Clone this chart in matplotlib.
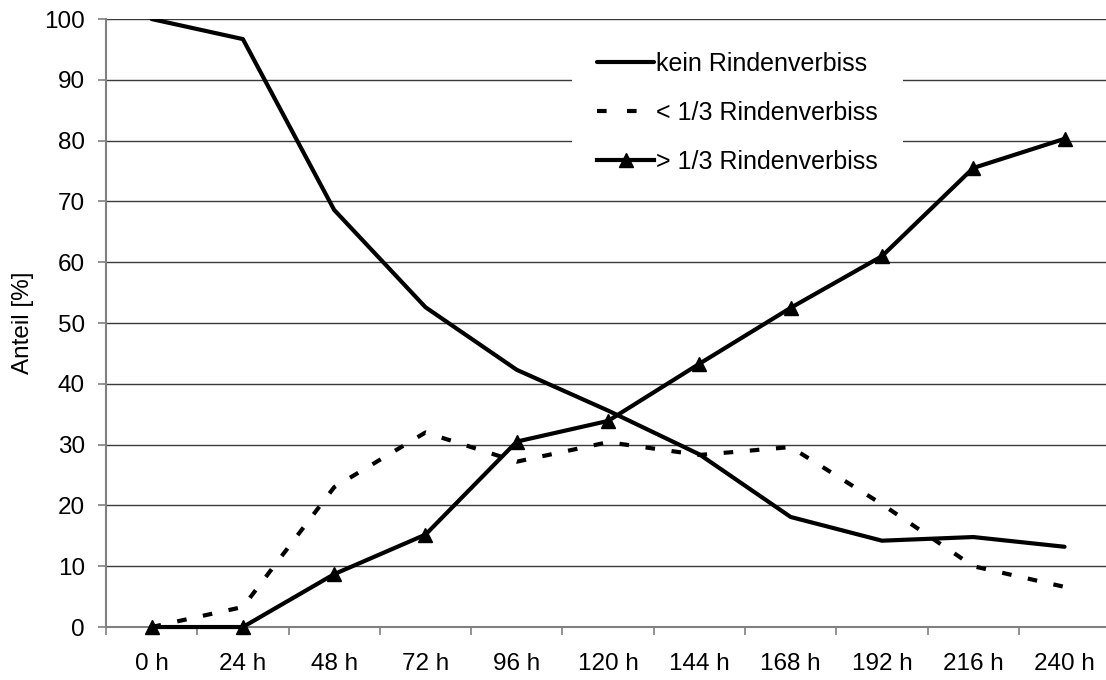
import matplotlib
matplotlib.use('Agg')
import matplotlib.pyplot as plt
import numpy as np

plt.rcParams['font.family'] = ['Liberation Sans', 'DejaVu Sans']

# Daten
zeit_labels = ['0 h', '24 h', '48 h', '72 h', '96 h', '120 h', '144 h', '168 h', '192 h', '216 h', '240 h']
kein = [100, 96.7, 68.6, 52.6, 42.3, 35.6, 28.4, 18.1, 14.2, 14.8, 13.2]
unter_drittel = [0, 3.3, 23.0, 32.0, 27.2, 30.4, 28.3, 29.6, 20.2, 10.0, 6.6]
ueber_drittel = [0, 0, 8.7, 15.2, 30.5, 33.9, 43.3, 52.5, 61.0, 75.5, 80.3]

x = np.arange(len(zeit_labels))

fig = plt.figure(figsize=(11.06, 6.8), dpi=100)
ax = fig.add_axes([0.0958, 0.0779, 0.908, 0.8941])

ax.plot(x, kein, color='black', lw=3, solid_capstyle='round', label='kein Rindenverbiss', zorder=3)
ax.plot(x, unter_drittel, color='black', lw=3, linestyle=(0, (2.3, 4.0)), dash_capstyle='butt',
        label='< 1/3 Rindenverbiss', zorder=3)
ax.plot(x, ueber_drittel, color='black', lw=3, marker='^', markersize=10.5, clip_on=False,
        label='> 1/3 Rindenverbiss', zorder=4)

ax.set_xlim(-0.5, len(zeit_labels) - 0.5)
ax.set_ylim(0, 100)
ax.set_yticks(np.arange(0, 101, 10))
ax.yaxis.grid(True, color='#3a3a3a', lw=1)
ax.set_axisbelow(True)

ax.set_xticks(x)
ax.set_xticklabels(zeit_labels, fontsize=17.5)
ax.set_xticks(np.arange(-0.5, len(zeit_labels), 1), minor=True)
ax.tick_params(axis='x', which='major', length=0, pad=19)
ax.tick_params(axis='x', which='minor', length=6, color='#808080', width=1.2)
ax.tick_params(axis='y', labelsize=17.5, length=6, color='#808080', width=1.2, pad=9)

for s in ['top', 'right']:
    ax.spines[s].set_visible(False)
ax.spines['left'].set_color('#808080')
ax.spines['left'].set_linewidth(1.5)
ax.spines['bottom'].set_color('#808080')
ax.spines['bottom'].set_linewidth(1.5)

ax.set_ylabel('Anteil [%]', fontsize=17.5)
ax.yaxis.set_label_coords(-0.072, 0.5)

leg = ax.legend(loc='upper left', bbox_to_anchor=(572 / 1106, 1 - 27 / 680),
                bbox_transform=fig.transFigure, frameon=True, fontsize=18,
                handlelength=2.28, handletextpad=0.1, labelspacing=1.0,
                borderpad=1.0, borderaxespad=0, fancybox=False)
leg.get_frame().set_facecolor('white')
leg.get_frame().set_edgecolor('none')
leg.get_frame().set_alpha(1)
# gestrichelte Legendenlinie: nur zwei Striche wie im Original
leg.get_lines()[1].set_dashes([2.3, 4.9])

fig.savefig('out.png', dpi=100)
